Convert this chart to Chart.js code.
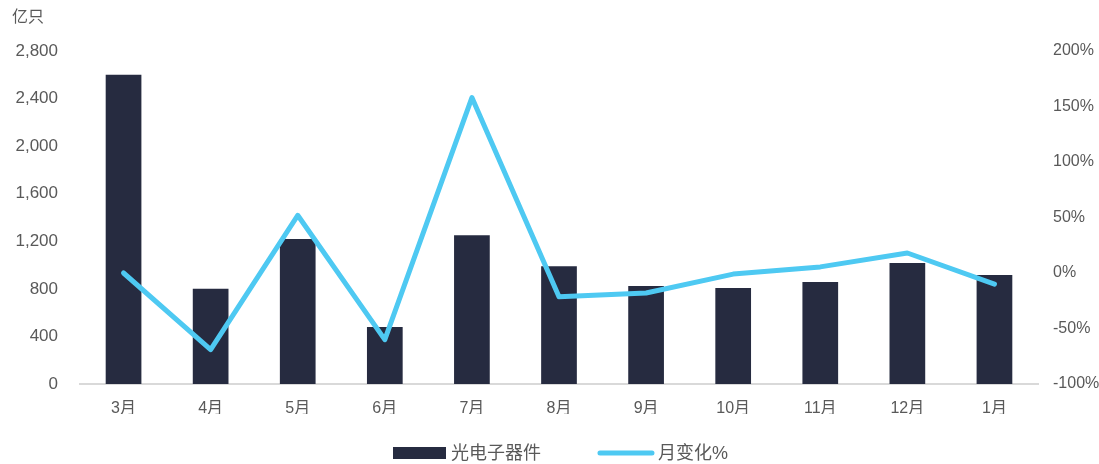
<!DOCTYPE html>
<html>
<head>
<meta charset="utf-8">
<script src="https://cdn.jsdelivr.net/npm/chart.js@4/dist/chart.umd.min.js"></script>
<style>
  html, body { margin: 0; padding: 0; background: #fff; }
  #wrap { width: 1099px; height: 464px; position: relative; }
</style>
</head>
<body>
<div id="wrap"><canvas id="myChart"></canvas></div>
<script>
// data
var months = ['3月', '4月', '5月', '6月', '7月', '8月', '9月', '10月', '11月', '12月', '1月'];
var output = [2600, 800, 1220, 480, 1250, 990, 825, 807, 858, 1018, 917];     // 亿只
var momChange = [0, -69, 52, -60, 158, -21.5, -18, -1, 5.5, 18, -10];        // %
var leftTicks = [0, 400, 800, 1200, 1600, 2000, 2400, 2800];
var rightTicks = [-100, -50, 0, 50, 100, 150, 200];

var FONT = '"Liberation Sans", Arial, "Noto Sans CJK SC", sans-serif';
var GREY = '#595959';

// unit label + bottom legend
var extras = {
  id: 'extras',
  afterDraw: function(chart) {
    var ctx = chart.ctx;
    ctx.save();
    ctx.fillStyle = GREY;
    ctx.font = '16px ' + FONT;
    ctx.textBaseline = 'middle';
    ctx.textAlign = 'left';
    ctx.fillText('亿只', 12, 18);

    var ds = chart.data.datasets;
    var y = 453;
    var x = 393;
    ctx.font = '18px ' + FONT;
    // bar item
    ctx.fillStyle = ds[0].backgroundColor;
    ctx.fillRect(x, y - 6, 53, 12);
    x += 58;
    ctx.fillStyle = GREY;
    ctx.fillText(ds[0].label, x, y + 1);
    x += ctx.measureText(ds[0].label).width + 57;
    // line item
    ctx.strokeStyle = ds[1].borderColor;
    ctx.lineWidth = 5;
    ctx.lineCap = 'round';
    ctx.beginPath();
    ctx.moveTo(x + 2, y);
    ctx.lineTo(x + 54, y);
    ctx.stroke();
    x += 60;
    ctx.fillText(ds[1].label, x, y + 1);
    ctx.restore();
  }
};

var ctx = document.getElementById('myChart').getContext('2d');
var chart = new Chart(ctx, {
  type: 'bar',
  data: {
    labels: months,
    datasets: [{
      type: 'bar',
      label: '光电子器件',
      data: output,
      backgroundColor: '#262B40',
      borderWidth: 0,
      categoryPercentage: 1,
      barPercentage: 0.41,
      yAxisID: 'y',
      order: 2
    }, {
      type: 'line',
      label: '月变化%',
      data: momChange,
      borderColor: '#4EC9F2',
      backgroundColor: '#4EC9F2',
      borderWidth: 5,
      borderCapStyle: 'round',
      borderJoinStyle: 'round',
      pointRadius: 0,
      tension: 0,
      yAxisID: 'y1',
      order: 1
    }]
  },
  options: {
    responsive: true,
    maintainAspectRatio: false,
    animation: false,
    layout: { padding: { top: 51, bottom: 50, left: 0, right: 0 } },
    plugins: {
      legend: { display: false },
      tooltip: { enabled: false }
    },
    scales: {
      x: {
        grid: { display: false, drawTicks: false },
        border: { display: true, color: '#D9D9D9', width: 2 },
        ticks: { color: GREY, font: { size: 16, family: FONT }, padding: 15 },
        afterFit: function(s) { s.height = 30; }
      },
      y: {
        position: 'left',
        min: 0, max: 2800,
        grid: { display: false, drawTicks: false },
        border: { display: false },
        afterBuildTicks: function(s) { s.ticks = leftTicks.map(function(v) { return { value: v }; }); },
        ticks: {
          color: GREY, font: { size: 17, family: FONT }, padding: 22,
          callback: function(v) { return v.toLocaleString('en-US'); }
        },
        afterFit: function(s) { s.width = 80; }
      },
      y1: {
        position: 'right',
        min: -100, max: 200,
        grid: { display: false, drawTicks: false },
        border: { display: false },
        afterBuildTicks: function(s) { s.ticks = rightTicks.map(function(v) { return { value: v }; }); },
        ticks: {
          color: GREY, font: { size: 16, family: FONT }, padding: 15,
          callback: function(v) { return v + '%'; }
        },
        afterFit: function(s) { s.width = 61; }
      }
    }
  },
  plugins: [extras]
});
</script>
</body>
</html>
